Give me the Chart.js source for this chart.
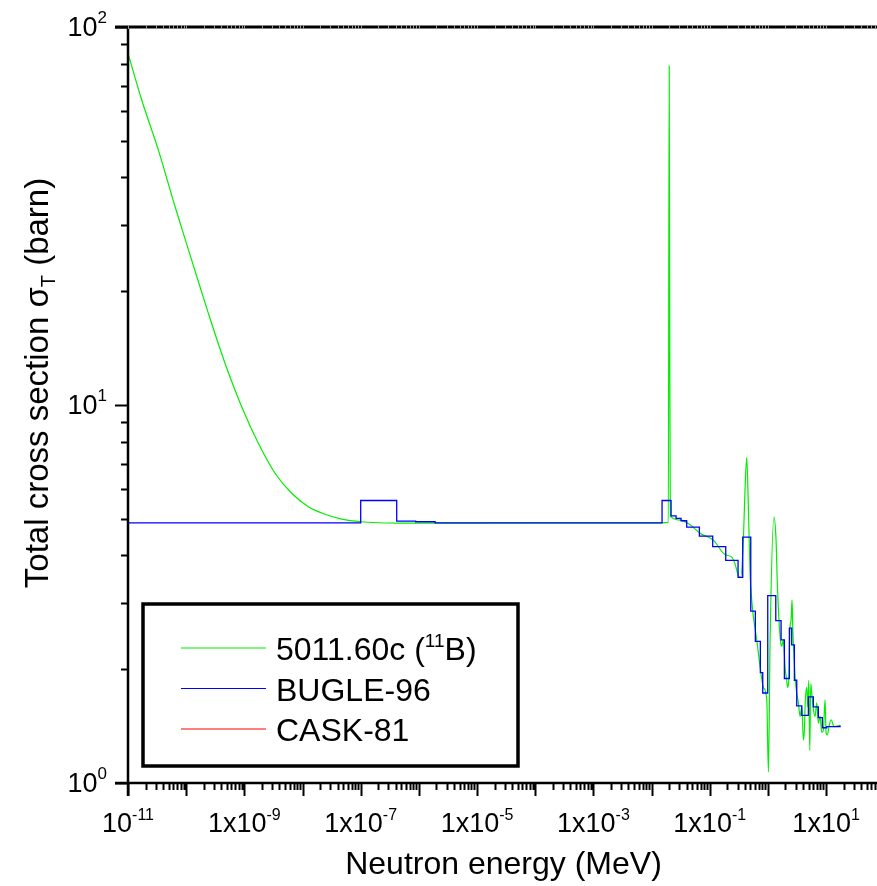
<!DOCTYPE html>
<html>
<head>
<meta charset="utf-8">
<script src="https://cdn.jsdelivr.net/npm/chart.js@4.4.1/dist/chart.umd.min.js"></script>
<style>
  html, body { margin: 0; padding: 0; background: #fff; }
  canvas { display: block; }
</style>
</head>
<body>
<canvas id="chart" width="877" height="886"></canvas>
<script>
// 5011.60c (11B) pointwise total cross section, energy in MeV, sigma in barn
const greenEnergy = [1e-11, 1.72e-11, 3.32e-11, 6.43e-11, 1.24e-10, 2.4e-10, 4.65e-10, 9.0e-10,
  1.74e-9, 3.37e-9, 6.52e-9, 1.26e-8, 2.44e-8, 4.72e-8, 1e-7, 4.2e-7, 1.9e-6, 0.014, 0.0194,
  0.0201, 0.0205, 0.021, 0.0309, 0.0459, 0.0681, 0.115, 0.183, 0.239, 0.272, 0.31, 0.341,
  0.378, 0.404, 0.432, 0.461, 0.493, 0.527, 0.563, 0.643, 0.733, 0.836, 0.955, 1.02, 1.09,
  1.27, 1.38, 1.45, 1.55, 1.66, 1.73, 1.84, 1.97, 2.1, 2.19, 2.28, 2.4, 2.5, 2.6, 2.67, 2.81,
  2.96, 3.13, 3.34, 3.57, 3.82, 4.07, 4.23, 4.4, 4.65, 4.84, 5.04, 5.24, 5.45, 5.67, 5.97,
  6.46, 6.91, 7.36, 7.87, 8.42, 8.98, 9.6, 9.98, 10.5, 11.2, 12.2, 13.7, 17.4];
const greenSigma = [85.1, 64.1, 47.3, 33.5, 24.2, 17.5, 12.9, 9.9,
  7.92, 6.6, 5.84, 5.38, 5.14, 4.99, 4.91, 4.87, 4.87, 4.88, 4.89,
  78.9, 16.8, 5.08, 4.96, 4.82, 4.58, 4.39, 4.02, 3.96, 3.8, 3.54, 3.5,
  4.38, 5.96, 7.27, 5.38, 3.59, 3.05, 2.75, 2.39, 2.03, 1.79, 1.66, 1.07, 2.39,
  5.05, 4.39, 3.38, 2.7, 2.35, 2.3, 2.39, 2.03, 1.87, 1.79, 1.87, 2.59, 2.7, 3.05, 2.59, 2.15,
  1.87, 1.73, 1.63, 1.5, 1.59, 1.3, 1.38, 1.66, 1.79, 1.59, 1.87, 1.22, 1.83, 1.73, 1.59,
  1.5, 1.63, 1.44, 1.5, 1.36, 1.38, 1.66, 1.36, 1.34, 1.41, 1.47, 1.41, 1.42];

// BUGLE-96 group values: lower group boundary (MeV) and group sigma (barn)
const bugleEnergy = [1e-11, 1e-7, 4.16e-7, 8.8e-7, 1.9e-6, 0.01514, 0.02163, 0.02636, 0.03214,
  0.04018, 0.06637, 0.1125, 0.1884, 0.3069, 0.369, 0.507, 0.6081, 0.7413, 0.8147, 0.9931,
  1.365, 1.683, 1.919, 2.339, 2.564, 2.851, 3.13, 3.82, 4.96, 6.04, 7.36, 8.63, 10.26, 17.4];
const bugleSigma = [4.88, 5.59, 4.93, 4.91, 4.88, 5.59, 5.09, 5.01, 4.94,
  4.75, 4.5, 4.22, 3.88, 3.5, 4.47, 2.85, 2.37, 1.96, 1.73, 3.13,
  2.69, 2.39, 1.89, 2.57, 2.32, 1.87, 1.6, 1.51, 1.69, 1.59, 1.49, 1.4, 1.41, 1.42];

// CASK-81 (not visible inside the plotted range)
const caskEnergy = [];
const caskSigma = [];

const seriesNames = ['5011.60c', 'BUGLE-96', 'CASK-81'];
const seriesColors = ['#00ee00', '#0000ff', '#ff0000'];

// axis ranges and labelled decades
const xMin = 1e-11, xMax = 75;
const yMin = 1, yMax = 100;
const xLabelExps = [-11, -9, -7, -5, -3, -1, 1];
const yLabelExps = [0, 1, 2];

const FONT = '"Liberation Sans", Arial, Helvetica, sans-serif';

function toPoints(xs, ys) {
  return xs.map((v, i) => ({ x: v, y: ys[i] }));
}

// text made of pieces, some raised or lowered (super/subscripts)
function richText(ctx, parts, x, y, align) {
  let total = 0;
  parts.forEach(p => { ctx.font = p.size + 'px ' + FONT; p.w = ctx.measureText(p.t).width; total += p.w; });
  let cx = align === 'center' ? x - total / 2 : align === 'right' ? x - total : x;
  ctx.textAlign = 'left';
  ctx.textBaseline = 'alphabetic';
  parts.forEach(p => {
    ctx.font = p.size + 'px ' + FONT;
    ctx.fillText(p.t, cx, y + (p.dy || 0));
    cx += p.w;
  });
}

const framePlugin = {
  id: 'frame',
  afterDraw(chart) {
    const { ctx, chartArea: a, scales } = chart;
    const xs = scales.x, ys = scales.y;
    ctx.save();
    ctx.strokeStyle = '#000';
    ctx.fillStyle = '#000';
    ctx.lineCap = 'butt';

    // top border
    ctx.lineWidth = 3;
    ctx.beginPath();
    ctx.moveTo(a.left - 13, a.top);
    ctx.lineTo(a.right, a.top);
    ctx.stroke();

    // left and bottom axis lines
    ctx.lineWidth = 2.5;
    ctx.beginPath();
    ctx.moveTo(a.left, a.top);
    ctx.lineTo(a.left, a.bottom + 13);
    ctx.moveTo(a.left - 13, a.bottom);
    ctx.lineTo(a.right, a.bottom);
    ctx.stroke();

    // x ticks
    ctx.lineWidth = 2;
    ctx.beginPath();
    for (let e = -11; e <= 2; e++) {
      for (let m = 1; m <= 9; m++) {
        const v = m * Math.pow(10, e);
        if (v < xMin * 0.999 || v > xMax) continue;
        const px = Math.round(xs.getPixelForValue(v)) + 0.5;
        const len = m === 1 ? 13 : 7;
        ctx.moveTo(px, a.bottom);
        ctx.lineTo(px, a.bottom + len);
      }
    }
    ctx.stroke();

    // faint minor marks on the top border
    ctx.strokeStyle = '#999';
    ctx.lineWidth = 1;
    ctx.beginPath();
    for (let e = -11; e <= 2; e++) {
      for (let m = 1; m <= 9; m++) {
        const v = m * Math.pow(10, e);
        if (v < xMin * 0.999 || v > xMax) continue;
        const px = Math.round(xs.getPixelForValue(v)) + 0.5;
        ctx.moveTo(px, a.top - 2);
        ctx.lineTo(px, a.top + 2);
      }
    }
    ctx.stroke();
    ctx.strokeStyle = '#000';

    // y ticks
    ctx.lineWidth = 2;
    ctx.beginPath();
    for (let e = 0; e <= 2; e++) {
      for (let m = 1; m <= 9; m++) {
        const v = m * Math.pow(10, e);
        if (v > yMax) continue;
        const py = Math.round(ys.getPixelForValue(v)) + 0.5;
        const len = m === 1 ? 13 : 7;
        ctx.moveTo(a.left, py);
        ctx.lineTo(a.left - len, py);
      }
    }
    ctx.stroke();

    // x tick labels
    xLabelExps.forEach(e => {
      const px = xs.getPixelForValue(Math.pow(10, e));
      const base = e === -11 ? '10' : '1x10';
      richText(ctx, [{ t: base, size: 27 }, { t: String(e), size: 16, dy: -12 }], px, 832, 'center');
    });

    // y tick labels
    yLabelExps.forEach(e => {
      const py = ys.getPixelForValue(Math.pow(10, e));
      richText(ctx, [{ t: '10', size: 27 }, { t: String(e), size: 17, dy: -13 }], 107, py + 9, 'right');
    });

    // axis titles
    richText(ctx, [{ t: 'Neutron energy (MeV)', size: 32 }], (a.left + a.right) / 2 + 1, 874, 'center');

    ctx.save();
    ctx.translate(48, (a.top + a.bottom) / 2 - 22);
    ctx.rotate(-Math.PI / 2);
    richText(ctx, [
      { t: 'Total cross section \u03c3', size: 33 },
      { t: 'T', size: 20, dy: 7 },
      { t: ' (barn)', size: 33 }
    ], 0, 0, 'center');
    ctx.restore();

    // legend box
    ctx.fillStyle = '#fff';
    ctx.fillRect(143, 604, 375, 162);
    ctx.strokeStyle = '#000';
    ctx.lineWidth = 3.5;
    ctx.strokeRect(143, 604, 375, 162);
    const rows = [648, 688.5, 729];
    rows.forEach((ry, i) => {
      ctx.strokeStyle = seriesColors[i];
      ctx.lineWidth = 1.2;
      ctx.beginPath();
      ctx.moveTo(181, ry);
      ctx.lineTo(266, ry);
      ctx.stroke();
      ctx.fillStyle = '#000';
      if (i === 0) {
        richText(ctx, [
          { t: seriesNames[0] + ' (', size: 32 },
          { t: '11', size: 19, dy: -13 },
          { t: 'B)', size: 32 }
        ], 276, ry + 12, 'left');
      } else {
        richText(ctx, [{ t: seriesNames[i], size: 32 }], 276, ry + 12, 'left');
      }
    });

    ctx.restore();
  }
};

const chart = new Chart(document.getElementById('chart').getContext('2d'), {
  type: 'line',
  data: {
    datasets: [
      {
        label: seriesNames[0],
        data: toPoints(greenEnergy, greenSigma),
        borderColor: seriesColors[0],
        borderWidth: 1.2,
        pointRadius: 0,
        cubicInterpolationMode: 'monotone',
        order: 3
      },
      {
        label: seriesNames[1],
        data: toPoints(bugleEnergy, bugleSigma),
        borderColor: seriesColors[1],
        borderWidth: 1.3,
        pointRadius: 0,
        stepped: 'before',
        order: 1
      },
      {
        label: seriesNames[2],
        data: toPoints(caskEnergy, caskSigma),
        borderColor: seriesColors[2],
        borderWidth: 1.2,
        pointRadius: 0,
        stepped: 'before',
        order: 2
      }
    ]
  },
  options: {
    responsive: false,
    animation: false,
    devicePixelRatio: 1,
    layout: { padding: { left: 128, top: 27, right: 0, bottom: 103 } },
    plugins: {
      legend: { display: false },
      tooltip: { enabled: false }
    },
    scales: {
      x: { type: 'logarithmic', min: xMin, max: xMax, bounds: 'data', display: false },
      y: { type: 'logarithmic', min: yMin, max: yMax, bounds: 'data', display: false }
    }
  },
  plugins: [framePlugin]
});
</script>
</body>
</html>
